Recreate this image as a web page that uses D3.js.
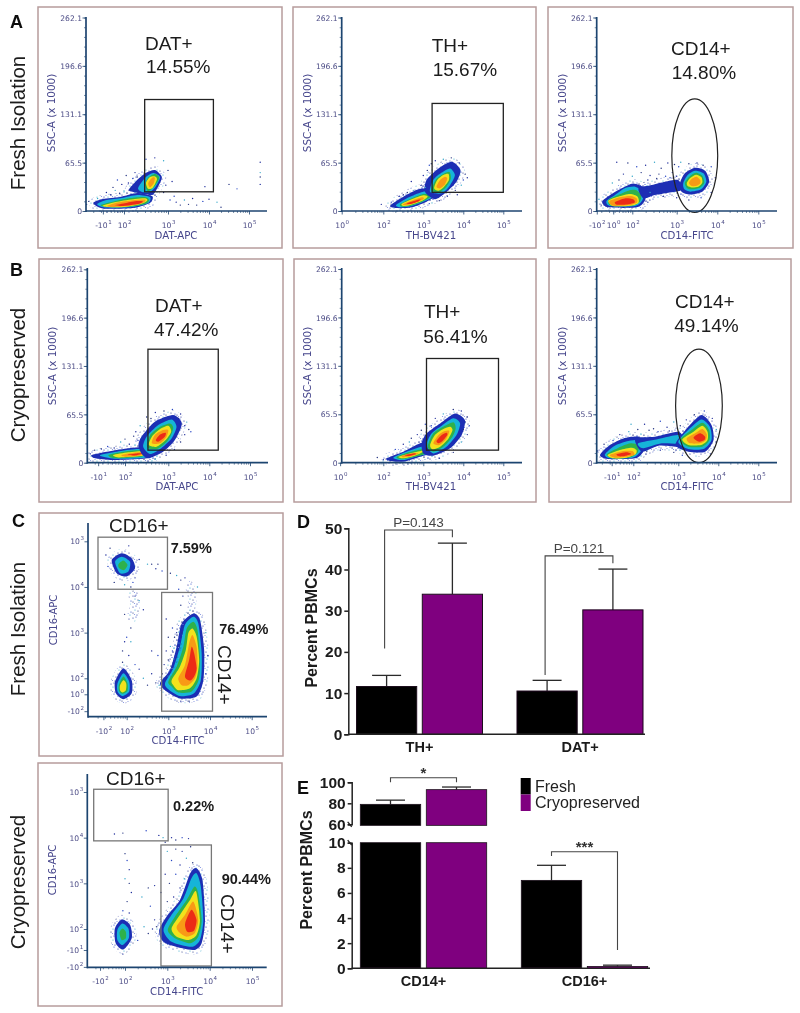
<!DOCTYPE html>
<html>
<head>
<meta charset="utf-8">
<script src="https://cdn.jsdelivr.net/npm/d3@7"></script>
<style>
  html, body { margin: 0; padding: 0; background: #fff; }
  svg { display: block; }
</style>
</head>
<body>
<div id="field"></div>
<script>
// density levels: 0 sparse, 1 blue, 2 cyan, 3 green, 4 yellow, 5 orange, 6 red
const levelColors = ["url(#speck)", "#1c2fb4", "#18b4d8", "#2fb14c", "#f2e21e", "#f89a18", "#ec2a18"];
const speckColors = ["#1c2a9a", "#20307f", "#2746c4", "#1c2a9a", "#33a6c9", "#20307f"];

// x = decade of the fluorescence axis, y = SSC-A x 1000
const datFreshRings = [
  [1, [[1.3,10.8],[1.52,16.2],[1.91,19],[2.3,24.4],[2.64,20],[2.59,10.8],[2.2,4],[1.52,3.4]]],
  [2, [[1.39,9.5],[1.61,15],[1.95,17.6],[2.3,21.7],[2.59,19],[2.55,10.8],[2.18,5.4],[1.57,4.7]]],
  [3, [[1.47,8],[1.8,13.5],[2.14,17.6],[2.48,19],[2.57,15],[2.48,9.5],[2.09,5.4],[1.6,5.4]]],
  [4, [[1.52,7.5],[1.85,12.5],[2.25,16.2],[2.5,17],[2.52,13.5],[2.36,9],[2.02,5.4],[1.64,5.4]]],
  [5, [[1.62,7],[1.85,11.5],[2.2,14.5],[2.48,15.5],[2.43,10.8],[2.09,6.8],[1.7,5.5]]],
  [6, [[1.8,8],[2.05,11],[2.3,13.5],[2.43,13],[2.32,9.5],[1.95,6.8]]],
  [1, [[2.11,28],[2.25,39],[2.48,51],[2.7,55.5],[2.86,46],[2.77,32.5],[2.64,21.7],[2.32,24.4]]],
  [2, [[2.32,31],[2.48,45],[2.66,51.5],[2.82,46],[2.73,34],[2.59,25.7],[2.41,25.7]]],
  [3, [[2.48,35],[2.55,45],[2.7,50],[2.8,45],[2.7,34],[2.55,27]]],
  [4, [[2.5,38],[2.59,46],[2.7,47],[2.75,43],[2.66,32],[2.55,30]]],
  [5, [[2.55,38],[2.64,45],[2.7,45],[2.68,38],[2.59,32]]]
];
const datFreshSpecks = [[1.6,25],[1.75,32],[1.85,42],[1.95,36],[2,27],[2.05,48],[2.1,38],[2.15,30],[2.2,44],[1.7,22],[1.8,28],[1.9,24],[2.25,52],[2.3,46],[2.5,70],[2.7,72],[2.9,68],[3,55],[3.1,40],[2.9,25],[3.05,15],[3.2,12],[3.4,15],[3.5,9],[3.6,17],[3.7,8],[3.85,13],[4,16],[4.2,12],[4.3,5],[3.9,33],[4.5,36],[4.7,30],[5.28,66],[5.28,52],[5.28,46],[5.28,36],[3.3,8],[3.15,20],[2.95,35],[1.4,17],[1.2,13],[1.15,9]];
const datFreshGate = [2.47, 4.11, 26, 151];

const thFreshRings = [
  [1, [[2.17,7.2],[2.5,19.4],[2.88,29.3],[3.21,30.7],[3.33,21.6],[3.08,12.6],[2.71,5],[2.33,4]]],
  [2, [[2.32,8.1],[2.58,17],[2.92,24.8],[3.21,27.5],[3.29,20.3],[3.04,13.5],[2.71,6.8],[2.42,5]]],
  [3, [[2.42,9],[2.67,16.2],[2.96,22.5],[3.17,23],[3.17,18.5],[2.96,12.2],[2.67,6.8],[2.46,5.9]]],
  [4, [[2.46,9.5],[2.71,15.8],[3,21.2],[3.11,19.4],[2.96,13.5],[2.67,8.1],[2.5,6.8]]],
  [5, [[2.5,9.5],[2.75,14.9],[2.98,18.5],[3,15.8],[2.71,9.5],[2.54,7.7]]],
  [6, [[2.58,10.4],[2.79,14],[2.93,15.8],[2.88,13],[2.67,9.5]]],
  [1, [[3.04,26],[3.08,42],[3.38,57.7],[3.71,66.7],[3.93,55.5],[3.83,39.7],[3.54,23.9],[3.29,15.8]]],
  [2, [[3.17,26],[3.25,42],[3.46,52],[3.67,57.7],[3.79,48.7],[3.67,35],[3.46,23.9]]],
  [3, [[3.21,28.4],[3.31,42],[3.5,50],[3.65,53],[3.69,44],[3.58,33],[3.38,24.8]]],
  [4, [[3.27,30.7],[3.35,42],[3.5,48.7],[3.63,50],[3.64,42],[3.52,33],[3.38,27.5]]],
  [5, [[3.33,33],[3.42,42],[3.54,46.5],[3.6,44],[3.54,36],[3.42,30.7]]]
];
const thFreshSpecks = [[3,48],[3.1,55],[3.15,62],[3.3,68],[3.5,70],[3.7,72],[3.9,65],[4.05,50],[4,42],[4.1,45],[3.95,35],[3.8,28],[3.6,20],[3.4,14],[3.15,10],[2.7,40],[2.75,28],[2.6,25],[2.4,20],[2.5,22],[2.2,12],[1.95,9],[3.05,32],[2.95,35],[3.85,22],[3.2,64]];
const thFreshGate = [3.22, 5, 25.3, 145.7];

const cd14FreshRings = [
  [1, [[1.32,12.6],[1.5,21.6],[1.76,30.7],[2.02,37.4],[2.29,30.7],[2.29,14.9],[2.1,5],[1.46,5]]],
  [2, [[1.42,13.5],[1.61,21.6],[1.83,30.7],[2.06,32.9],[2.23,26.2],[2.23,14.9],[2.06,6.8],[1.5,6.8]]],
  [3, [[1.46,14.9],[1.68,21.6],[1.91,27.5],[2.08,28.4],[2.2,21.6],[2.17,12.6],[2,7.2],[1.53,6.8]]],
  [4, [[1.46,14],[1.68,19.4],[1.95,23],[2.12,19.4],[2.14,11.3],[1.97,7.2],[1.57,6.8]]],
  [5, [[1.48,13],[1.72,18.5],[1.97,20.3],[2.1,17.1],[2.1,11.3],[1.91,7.7],[1.57,7.2]]],
  [6, [[1.61,12.2],[1.83,17.1],[2.02,15.8],[2.05,11.3],[1.83,8.6],[1.65,8.6]]],
  [1, [[2.14,30.7],[2.44,35.2],[2.74,39.7],[3.04,41.9],[3.12,28.4],[2.81,24.8],[2.51,21.6],[2.25,17.1]]],
  [1, [[3.08,37.4],[3.2,51],[3.45,58.6],[3.7,54.6],[3.8,39.7],[3.63,26.2],[3.33,22.5],[3.12,26.2]]],
  [2, [[3.16,37.4],[3.27,48.7],[3.45,54.6],[3.66,51],[3.73,39.7],[3.6,29.3],[3.34,26.2],[3.19,29.3]]],
  [3, [[3.2,38.3],[3.31,46.5],[3.47,51.9],[3.63,47.8],[3.68,38.3],[3.57,31.6],[3.35,29.3],[3.24,32]]],
  [4, [[3.25,38.3],[3.34,45],[3.48,49.2],[3.61,45.6],[3.63,38.3],[3.53,32.9],[3.37,32],[3.27,33.8]]],
  [5, [[3.3,38.3],[3.39,44.2],[3.49,46.5],[3.58,41.9],[3.58,37.4],[3.49,34.3],[3.37,33.8]]]
];
const cd14FreshSpecks = [[1.65,66],[1.9,65],[2.1,60],[2.3,62],[2.5,66],[2.65,58],[2.8,65],[2.95,63],[3.05,60],[1.8,50],[2,47],[2.2,52],[2.4,48],[2.6,50],[2.75,47],[2.9,52],[3.1,66],[3.3,64],[3.5,65],[3.65,62],[3.85,60],[3.95,45],[1.55,38],[1.7,42],[2.35,42],[2.55,44],[2.85,45],[3,47],[2.4,25],[2.7,20],[3,18],[3.3,15],[3.6,18],[3.85,25],[1.25,16],[1.3,8],[2.35,12]];
const cd14FreshGate = [2.89, 4.01, -2, 152];

const datCryoRings = [
  [1, [[1.23,10.4],[1.58,14.9],[2.04,19.4],[2.5,21.6],[2.69,14.9],[2.5,5.9],[1.73,3.6],[1.31,5.9]]],
  [2, [[1.42,9.9],[1.81,14.9],[2.27,18.5],[2.58,17.1],[2.62,12.6],[2.42,6.3],[1.77,5.4]]],
  [3, [[1.62,10.4],[1.96,14.9],[2.42,17.1],[2.58,14],[2.38,8.1],[1.77,5.9]]],
  [4, [[1.73,10.4],[2.08,14],[2.46,15.8],[2.54,12.6],[2.35,9],[1.85,7.2]]],
  [5, [[1.92,10.4],[2.19,13.5],[2.46,14.4],[2.46,11.3],[2.27,9],[2,8.1]]],
  [6, [[2.04,10.8],[2.27,12.6],[2.41,12.6],[2.23,9.9]]],
  [1, [[2.31,23.9],[2.38,35.2],[2.69,55.5],[3.12,64.5],[3.33,53.2],[3.16,30.7],[2.88,14.9],[2.54,5.9],[2.38,12.6]]],
  [2, [[2.42,21.6],[2.5,35.2],[2.77,51],[3.08,58.6],[3.2,48.7],[3.08,32.9],[2.81,18.5],[2.58,11.7]]],
  [3, [[2.52,20.7],[2.58,37.4],[2.81,48.7],[3.04,53.2],[3.12,46.5],[3,30.7],[2.77,19.4]]],
  [4, [[2.55,23.9],[2.62,35.2],[2.81,45.6],[3,50],[3.07,41.9],[2.94,30.7],[2.73,21.6]]],
  [5, [[2.62,26.2],[2.69,37.4],[2.88,44.2],[3,44.2],[2.96,35.2],[2.81,26.2]]],
  [6, [[2.71,30.7],[2.81,38.3],[2.94,40.6],[2.92,35.2],[2.77,28.4]]]
];
const datCryoSpecks = [[1.2,12],[1.3,17],[1.6,22],[1.75,20],[1.9,28],[2,32],[2.1,25],[2.2,36],[2.3,30],[2.25,42],[2.35,50],[2.5,62],[2.7,68],[2.9,70],[3.1,72],[3.3,66],[3.45,55],[3.5,45],[3.4,38],[3.3,28],[3.15,18],[2.95,10],[2.7,5],[1.45,19],[3.4,50],[2.6,60],[3.55,42],[3.25,60]];
const datCryoGate = [2.53, 4.22, 17, 153.8];

const thCryoRings = [
  [1, [[2.08,5.9],[2.5,14.9],[2.92,26.2],[3.21,28.4],[3.25,14.9],[2.92,8.1],[2.5,1.4],[2.17,2.3]]],
  [2, [[2.25,6.8],[2.58,14.9],[2.96,21.6],[3.17,21.6],[3.17,12.6],[2.88,9.5],[2.5,3.6]]],
  [3, [[2.33,7.7],[2.63,14],[2.92,18],[3.13,19.4],[3.07,12.6],[2.79,8.1],[2.46,4.5]]],
  [4, [[2.38,8.1],[2.67,12.6],[2.96,16.2],[3,14.9],[2.79,9.5],[2.5,5.9]]],
  [5, [[2.46,9.5],[2.71,12.6],[2.88,12.6],[2.71,9],[2.5,7.2]]],
  [6, [[2.54,10.4],[2.75,12.6],[2.82,11.7],[2.63,9]]],
  [1, [[2.96,26.2],[3.08,39.7],[3.42,53.2],[3.79,66.7],[4.04,57.7],[3.96,37.4],[3.67,19.4],[3.25,9.5],[3,12.6]]],
  [2, [[3.08,23.9],[3.21,39.7],[3.46,50],[3.75,60],[3.92,53.2],[3.83,37.4],[3.58,21.6],[3.25,12.6]]],
  [3, [[3.11,21.6],[3.25,39.7],[3.5,48.7],[3.75,54.6],[3.81,46.5],[3.73,35.2],[3.5,21.6],[3.25,14.9]]],
  [4, [[3.17,23.9],[3.29,37.4],[3.5,45.6],[3.67,48.7],[3.73,44.2],[3.63,32.9],[3.42,21.6],[3.23,18]]],
  [5, [[3.25,26.2],[3.38,37.4],[3.54,42.8],[3.65,42.8],[3.58,32.9],[3.4,23.9]]],
  [6, [[3.33,29.3],[3.46,37.4],[3.58,40.6],[3.6,37.4],[3.48,29.3],[3.38,26.2]]]
];
const thCryoSpecks = [[2,4],[1.85,7],[2.3,18],[2.5,25],[2.65,28],[2.7,33],[2.85,38],[2.95,44],[3.05,52],[3.3,60],[3.5,66],[3.75,72],[3.95,70],[4.1,62],[4.15,50],[4.1,38],[3.95,28],[3.75,14],[3.4,6],[4,45],[3.2,50],[4.05,55]];
const thCryoGate = [3.08, 4.88, 17, 141];

const cd14CryoRings = [
  [1, [[1.26,10.4],[1.48,23.9],[1.78,32.9],[2.11,35.2],[2.26,26.2],[2.22,14.9],[2.04,5.9],[1.44,5]]],
  [2, [[1.37,11.3],[1.59,23],[1.89,29.3],[2.15,30.7],[2.22,23],[2.15,14],[1.98,6.8],[1.48,5.9]]],
  [3, [[1.41,11.3],[1.67,20.3],[1.93,26.2],[2.11,23.9],[2.1,14],[1.93,7.2],[1.52,5.9]]],
  [4, [[1.43,10.4],[1.7,17.1],[1.96,20.3],[2.07,17.1],[2.05,11.3],[1.85,6.8],[1.56,5.9]]],
  [5, [[1.48,10.4],[1.78,15.8],[1.98,15.8],[2.02,10.4],[1.81,7.7],[1.59,6.8]]],
  [6, [[1.63,11.3],[1.85,14],[1.95,11.7],[1.81,9],[1.68,8.6]]],
  [1, [[2.04,32.9],[2.48,35.2],[3,41.9],[3.17,28.4],[3,21.6],[2.56,23],[2.19,14.9]]],
  [2, [[2.11,26.2],[2.56,32],[3,37.4],[3.08,26.2],[2.63,26.2],[2.22,19.4]]],
  [1, [[2.96,28.4],[3.25,48.7],[3.58,64.5],[3.83,51],[3.88,30.7],[3.67,14.9],[3.25,14.9],[2.96,21.6]]],
  [2, [[3,28.4],[3.29,46.5],[3.58,58.6],[3.79,48.7],[3.83,30.7],[3.63,18.5],[3.25,18.5]]],
  [3, [[3.04,30.7],[3.33,44.2],[3.6,54.1],[3.77,44.2],[3.78,30.7],[3.6,21.6],[3.25,21.6]]],
  [4, [[3.1,31.6],[3.38,41.9],[3.6,50],[3.73,41.9],[3.73,30.7],[3.57,23.9],[3.25,23.9]]],
  [5, [[3.21,32.9],[3.42,39.7],[3.6,45.6],[3.71,38.8],[3.69,30.7],[3.54,26.2],[3.29,26.2]]],
  [6, [[3.38,33.8],[3.54,39.7],[3.67,35.2],[3.65,30.7],[3.52,28.4]]]
];
const cd14CryoSpecks = [[1.2,16],[1.35,25],[1.55,30],[1.7,38],[1.9,42],[2.1,45],[2.25,52],[2.45,46],[2.6,56],[2.75,48],[2.9,55],[3.05,50],[3.2,58],[3.4,65],[3.65,70],[3.85,60],[3.95,45],[3.95,28],[3.8,12],[2.35,44],[2.55,42],[2.8,43],[1.95,52],[2.3,15],[2.6,17],[2.9,14],[3.1,10]];
const cd14CryoGate = [2.94, 4.1, 0, 153.8];

// panel C: x and y are both decades
const monoFreshRings = [
  [0, [[3.4,4.04],[3.56,4.12],[3.68,3.86],[3.64,3.5],[3.44,3.35],[3.48,3.72]]],
  [0, [[2.04,3.86],[2.24,3.93],[2.32,3.57],[2.2,3.24],[2,3.31],[2.08,3.61]]],
  [0, [[2.95,2.0],[3.1,2.6],[3.25,3.2],[3.4,3.4],[3.3,2.6],[3.1,2.1]]],
  [1, [[1.64,4.59],[1.88,4.74],[2.12,4.63],[2.2,4.41],[2,4.23],[1.76,4.3]]],
  [2, [[1.72,4.55],[1.88,4.66],[2.08,4.55],[2.04,4.34],[1.84,4.3]]],
  [3, [[1.8,4.5],[1.92,4.58],[2.02,4.48],[1.94,4.37],[1.82,4.41]]],
  [1, [[1.72,1.93],[1.92,2.22],[2.12,1.96],[2.12,1.67],[1.92,1.54],[1.74,1.67]]],
  [2, [[1.78,1.89],[1.92,2.11],[2.06,1.93],[2.06,1.71],[1.9,1.61],[1.78,1.71]]],
  [3, [[1.81,1.85],[1.92,2.04],[2.02,1.89],[2.02,1.73],[1.9,1.66],[1.82,1.71]]],
  [4, [[1.84,1.85],[1.92,1.96],[1.99,1.88],[1.98,1.74],[1.9,1.69],[1.84,1.74]]],
  [1, [[2.8,1.89],[3.04,2.18],[3.2,2.69],[3.32,3.2],[3.6,3.42],[3.76,3.28],[3.86,2.62],[3.84,1.96],[3.68,1.6],[3.28,1.56],[2.96,1.71]]],
  [2, [[2.92,1.89],[3.12,2.22],[3.28,2.69],[3.4,3.17],[3.6,3.35],[3.72,3.2],[3.8,2.55],[3.78,1.96],[3.6,1.66],[3.28,1.61],[3,1.76]]],
  [3, [[3,1.93],[3.2,2.26],[3.36,2.69],[3.44,3.09],[3.6,3.24],[3.7,3.06],[3.76,2.47],[3.74,2],[3.56,1.71],[3.24,1.69],[3.08,1.82]]],
  [4, [[3.08,1.96],[3.28,2.26],[3.42,2.62],[3.48,2.99],[3.58,3.09],[3.68,2.91],[3.74,2.4],[3.68,2],[3.52,1.78],[3.24,1.74],[3.12,1.85]]],
  [5, [[3.24,2],[3.4,2.29],[3.5,2.77],[3.58,2.95],[3.68,2.69],[3.7,2.26],[3.64,2],[3.48,1.85],[3.32,1.85]]],
  [6, [[3.4,2.04],[3.5,2.4],[3.56,2.69],[3.62,2.55],[3.68,2.22],[3.62,2.04],[3.52,1.95]]]
];
const monoFreshSpecks = [[1.5,4.7],[1.6,4.85],[1.55,4.45],[2.3,4.6],[2.5,4.5],[2.6,4.5],[2.7,4.4],[2.75,4.5],[2.85,4.35],[2.05,4.9],[1.95,4.05],[1.7,4.1],[2.2,4.2],[2.1,4],[2.15,4.1],[2.2,3.8],[2.3,3.7],[1.95,3.4],[2.4,3.5],[2.1,3.1],[2,2.9],[1.95,2.8],[2.1,2.8],[1.9,2.6],[2.05,2.5],[1.9,2.35],[2.2,2.3],[2.3,2.2],[2.4,2],[2.5,1.85],[2.6,2.1],[2.7,1.9],[2.75,2.5],[2.6,2.6],[3.2,4.25],[3.3,4.15],[3.4,4.2],[3.05,4.3],[3.25,3.95],[3.35,3.8],[3.7,4],[3.3,3.6],[2.95,3.3],[3,2.9],[3.1,3.1],[2.95,2.6],[3.05,2.7],[3.15,2.9],[2.9,2.3],[3,2.4],[3.1,2.6],[3.2,3],[2.78,1.85],[2.85,2.1],[3.3,1.5],[3.5,1.5],[3.9,2.1],[3.95,2.5],[3.9,3]];
const monoFreshGates = [[1.31, 2.98, 3.95, 5.09], [2.84, 4.06, 1.28, 3.88]];

const monoCryoRings = [
  [1, [[1.76,2.01],[1.92,2.21],[2.12,2.09],[2.16,1.8],[1.96,1.55],[1.78,1.69]]],
  [2, [[1.82,1.98],[1.94,2.12],[2.08,2.01],[2.09,1.8],[1.94,1.65],[1.82,1.76]]],
  [3, [[1.87,1.92],[1.94,2.01],[2.02,1.94],[2.02,1.8],[1.92,1.76]]],
  [1, [[2.81,1.98],[2.98,2.27],[3.3,2.64],[3.54,3.22],[3.69,3.33],[3.83,3.07],[3.89,2.2],[3.81,1.69],[3.61,1.54],[3.06,1.65],[2.87,1.76]]],
  [2, [[2.91,1.98],[3.1,2.31],[3.38,2.67],[3.57,3.11],[3.69,3.22],[3.79,2.93],[3.85,2.2],[3.77,1.76],[3.57,1.61],[3.1,1.72]]],
  [3, [[3.01,1.98],[3.18,2.27],[3.46,2.64],[3.64,2.93],[3.73,2.78],[3.81,2.2],[3.73,1.83],[3.54,1.69],[3.18,1.8]]],
  [4, [[3.1,2.01],[3.3,2.31],[3.54,2.64],[3.68,2.82],[3.77,2.2],[3.69,1.87],[3.5,1.76],[3.22,1.83]]],
  [5, [[3.22,2.05],[3.42,2.31],[3.61,2.6],[3.73,2.2],[3.65,1.91],[3.46,1.83],[3.3,1.91]]],
  [6, [[3.42,2.12],[3.57,2.42],[3.69,2.2],[3.63,1.96],[3.47,1.94]]]
];
const monoCryoSpecks = [[1.75,4.08],[1.95,4.1],[2.5,4.15],[2.8,4.05],[2.9,4],[2.95,3.9],[3.1,4],[3.2,3.95],[3.35,4],[3.5,3.98],[3,3.7],[3.2,3.75],[3.35,3.7],[3.55,3.8],[3.1,3.5],[3.3,3.4],[3.45,3.55],[3.6,3.45],[2.95,3.2],[3.05,3],[3.2,3.2],[3.3,2.9],[3.4,3.1],[3,2.6],[3.15,2.7],[2,3.65],[2.05,3.5],[2.1,3.3],[2,3.1],[2.1,3],[2.15,2.8],[2.05,2.6],[1.95,2.4],[2.1,2.35],[2.4,2.7],[2.55,2.9],[2.7,2.95],[2.85,2.8],[2.6,2.5],[2.7,2.2],[2.45,2.05],[2.55,1.9],[2.65,2],[2.75,2.05],[2.3,1.75],[1.95,1.45]];
const monoCryoGates = [[1.26, 3.02, 3.93, 5.06], [2.85, 4.04, 1.19, 3.84]];

// tick labels: [position, base, exponent]
const sscTicks = [[0, "0"], [65.5, "65.5"], [131.1, "131.1"], [196.6, "196.6"], [262.1, "262.1"]];
const decades = [[2, "10", "2"], [3, "10", "3"], [4, "10", "4"], [5, "10", "5"]];

// bar charts
const groupsD = ["TH+", "DAT+"];
const groupsE = ["CD14+", "CD16+"];
const conditions = ["Fresh", "Cryopreserved"];
const freshD = [11.6, 10.5];
const freshDTop = [14.3, 13.1];
const cryoD = [34, 30.2];
const cryoDTop = [46.4, 40.1];
const freshE = [79, 7];
const freshETop = [83, 8.2];
const cryoE = [93, 0.15];
const cryoETop = [95.5, 0.25];
const ticksD = [0, 10, 20, 30, 40, 50];
const ticksEUpper = [60, 80, 100];
const ticksELower = [0, 2, 4, 6, 8, 10];
// P brackets: [top, left end, right end]
const bracketsD = [[49.6, 20.8, 47.8, "P=0.143"], [43.3, 14.4, 41.5, "P=0.121"]];

const sans = "'Liberation Sans', Arial, sans-serif";
const panelFont = "'DejaVu Sans', sans-serif";
const barColor = { Fresh: "#000", Cryopreserved: "#7f007f" };

var svg = d3.select("#field").append("svg").attr("width", 800).attr("height", 1013);
const defs = svg.append("defs");
defs.append("filter").attr("id", "soft").append("feGaussianBlur").attr("stdDeviation", 0.75);
defs.append("filter").attr("id", "softer").append("feGaussianBlur").attr("stdDeviation", 0.33);

// speckle tile for the low density edge of each population
const tile = defs.append("pattern").attr("id", "speck").attr("patternUnits", "userSpaceOnUse")
  .attr("width", 11).attr("height", 11);
[[1,2,"#1c2a9a"],[4,1,"#2746c4"],[8,3,"#1c2a9a"],[3,5,"#33a6c9"],[6,6,"#20307f"],[10,7,"#2746c4"],[1,8,"#20307f"],[5,10,"#1c2a9a"],[9,10,"#33a6c9"],[7,8.5,"#7f8fe0"],[2.5,9.5,"#7f8fe0"]]
  .forEach(d => tile.append("circle").attr("cx", d[0]).attr("cy", d[1]).attr("r", 0.6).attr("fill", d[2]));

const root = svg.append("g").attr("filter", "url(#softer)");

function addLabel(sel, tick) {
  sel.text(null);
  sel.append("tspan").text(tick[1]);
  if (tick[2]) {
    sel.append("tspan").attr("font-size", 5.5).attr("dy", -4).attr("dx", 0.6).text(tick[2]);
  }
}

function flowPanel(p) {
  const g = root.append("g");
  g.append("rect")
    .attr("x", p.frame[0]).attr("y", p.frame[1])
    .attr("width", p.frame[2] - p.frame[0]).attr("height", p.frame[3] - p.frame[1])
    .attr("fill", "#fff").attr("stroke", "#b79c9c").attr("stroke-width", 1.5);

  const x = d3.scaleLinear().domain([2, 3, 4, 5]).range(p.xRange);
  const y = d3.scaleLinear().domain(p.yDomain).range(p.yRange);

  const line = d3.line()
    .x(d => x(d[0])).y(d => y(d[1]))
    .curve(d3.curveCardinalClosed.tension(0.25));

  // speckled halo round the outer rings
  g.append("g").selectAll("path").data(p.rings.filter(d => d[0] == 1)).join("path")
    .attr("d", d => line(d[1]))
    .attr("fill", "none").attr("stroke", "url(#speck)").attr("stroke-width", 9);

  const cloud = g.append("g").attr("filter", "url(#soft)");
  cloud.selectAll("path").data(p.rings.filter(d => d[0] > 0)).join("path")
    .attr("d", d => line(d[1]))
    .attr("fill", d => levelColors[d[0]]);

  g.append("g").selectAll("path").data(p.rings.filter(d => d[0] == 0)).join("path")
    .attr("d", d => line(d[1]))
    .attr("fill", d => levelColors[d[0]]);

  g.append("g").selectAll("circle").data(p.specks).join("circle")
    .attr("cx", d => x(d[0])).attr("cy", d => y(d[1])).attr("r", 0.7)
    .attr("fill", (d, i) => speckColors[i % speckColors.length]);

  // gates
  (p.gates || []).forEach(b => {
    g.append("rect")
      .attr("x", x(b[0])).attr("y", y(b[3]))
      .attr("width", x(b[1]) - x(b[0])).attr("height", y(b[2]) - y(b[3]))
      .attr("fill", "none").attr("stroke", p.gateColor).attr("stroke-width", 1.3);
  });
  if (p.ellipse) {
    const e = p.ellipse;
    g.append("ellipse")
      .attr("cx", (x(e[0]) + x(e[1])) / 2).attr("cy", (y(e[2]) + y(e[3])) / 2)
      .attr("rx", (x(e[1]) - x(e[0])) / 2).attr("ry", (y(e[2]) - y(e[3])) / 2)
      .attr("fill", "none").attr("stroke", "#222").attr("stroke-width", 1.2);
  }

  // axes
  const xMinor = d3.range(1, 5).flatMap(d => [2, 3, 4, 5, 6, 7, 8, 9].map(k => d + Math.log10(k)))
    .filter(v => x(v) > p.axisX);
  const axisColor = "#1e4470";
  const xg = g.append("g").attr("transform", `translate(0,${p.axisY})`)
    .call(d3.axisBottom(x).tickValues(xMinor).tickSize(2).tickFormat(""));
  xg.select(".domain").remove();
  xg.selectAll("line").attr("stroke", axisColor).attr("stroke-width", 0.6);

  const xMajor = g.append("g").attr("transform", `translate(0,${p.axisY})`)
    .call(d3.axisBottom(x).tickValues(p.xTicks.map(t => t[0])).tickSize(3.5));
  xMajor.select(".domain").remove();
  xMajor.selectAll("line").attr("stroke", axisColor).attr("stroke-width", 0.8);
  xMajor.selectAll("text")
    .data(p.xTicks)
    .attr("y", 17).attr("dy", 0)
    .attr("font-family", panelFont).attr("font-size", 7.6).attr("fill", "#4c4c86")
    .each(function (t) { addLabel(d3.select(this), t); });

  const yMajor = g.append("g").attr("transform", `translate(${p.axisX},0)`)
    .call(d3.axisLeft(y).tickValues(p.yTicks.map(t => t[0])).tickSize(3.5));
  yMajor.select(".domain").remove();
  yMajor.selectAll("line").attr("stroke", axisColor).attr("stroke-width", 0.8);
  yMajor.selectAll("text")
    .data(p.yTicks)
    .attr("x", -4).attr("dy", "0.35em")
    .attr("font-family", panelFont).attr("font-size", 7.6).attr("fill", "#4c4c86")
    .each(function (t) { addLabel(d3.select(this), t); });

  if (p.yMinor) {
    const ym = g.append("g").attr("transform", `translate(${p.axisX},0)`)
      .call(d3.axisLeft(y).tickValues(p.yMinor).tickSize(2).tickFormat(""));
    ym.select(".domain").remove();
    ym.selectAll("line").attr("stroke", axisColor).attr("stroke-width", 0.6);
  }

  g.append("line").attr("x1", p.axisX).attr("x2", p.axisX)
    .attr("y1", p.axisTop).attr("y2", p.axisY + 1)
    .attr("stroke", axisColor).attr("stroke-width", 1.7);
  g.append("line").attr("x1", p.axisX).attr("x2", p.axisEnd)
    .attr("y1", p.axisY).attr("y2", p.axisY)
    .attr("stroke", axisColor).attr("stroke-width", 1.7);

  g.append("text").text(p.yLabel)
    .attr("transform", `translate(${p.axisX - 31},${p.yLabelMid}) rotate(-90)`)
    .attr("text-anchor", "middle").attr("font-family", panelFont)
    .attr("font-size", p.yLabelSize).attr("fill", "#46468c");
  g.append("text").text(p.xLabel)
    .attr("x", p.xLabelMid).attr("y", p.axisY + 27.5)
    .attr("text-anchor", "middle").attr("font-family", panelFont)
    .attr("font-size", 10.2).attr("fill", "#46468c");

  (p.notes || []).forEach(n => {
    const t = g.append("text").text(n.text)
      .attr("font-family", sans).attr("font-size", n.size || 19)
      .attr("font-weight", n.bold ? "bold" : "normal").attr("fill", "#1a1a1a");
    if (n.down) t.attr("transform", `translate(${n.x},${n.y}) rotate(90)`);
    else t.attr("x", n.x).attr("y", n.y);
  });
}

const sscMinor = d3.range(0, 263, 13.1);
const topY = { yDomain: [0, 262.1], yTicks: sscTicks, yMinor: sscMinor, yLabel: "SSC-A (x 1000)", yLabelSize: 10.4 };

flowPanel({ ...topY, frame: [38, 7, 282, 248], xRange: [124, 168, 209, 249], yRange: [211, 17.5], axisX: 86, axisY: 211, axisEnd: 267, axisTop: 17,
  rings: datFreshRings, specks: datFreshSpecks, gates: [datFreshGate], gateColor: "#222",
  xTicks: [[1.52, "-10", "1"], ...decades], xLabel: "DAT-APC", xLabelMid: 176, yLabelMid: 113,
  notes: [{ text: "DAT+", x: 145, y: 50 }, { text: "14.55%", x: 146, y: 73 }] });
flowPanel({ ...topY, frame: [293, 7, 536, 248], xRange: [383.3, 423.3, 463.3, 503.3], yRange: [211, 17.5], axisX: 341.7, axisY: 211, axisEnd: 522, axisTop: 17,
  rings: thFreshRings, specks: thFreshSpecks, gates: [thFreshGate], gateColor: "#222",
  xTicks: [[0.96, "10", "0"], ...decades], xLabel: "TH-BV421", xLabelMid: 431, yLabelMid: 113,
  notes: [{ text: "TH+", x: 431.7, y: 52 }, { text: "15.67%", x: 432.7, y: 76 }] });
flowPanel({ ...topY, frame: [548, 7, 793, 248], xRange: [632.3, 676.7, 717.3, 758.3], yRange: [211, 17.5], axisX: 596.7, axisY: 211, axisEnd: 777, axisTop: 17,
  rings: cd14FreshRings, specks: cd14FreshSpecks, ellipse: cd14FreshGate,
  xTicks: [[1.2, "-10", "2"], [1.57, "10", "0"], ...decades], xLabel: "CD14-FITC", xLabelMid: 687, yLabelMid: 113,
  notes: [{ text: "CD14+", x: 671, y: 55 }, { text: "14.80%", x: 671.7, y: 79 }] });

flowPanel({ ...topY, frame: [39, 259, 283, 502], xRange: [125, 168.3, 209.3, 250], yRange: [462.7, 269.3], axisX: 87.3, axisY: 462.7, axisEnd: 268, axisTop: 268,
  rings: datCryoRings, specks: datCryoSpecks, gates: [datCryoGate], gateColor: "#222",
  xTicks: [[1.38, "-10", "1"], ...decades], xLabel: "DAT-APC", xLabelMid: 177, yLabelMid: 366,
  notes: [{ text: "DAT+", x: 155, y: 312 }, { text: "47.42%", x: 154, y: 336 }] });
flowPanel({ ...topY, frame: [294, 259, 536, 502], xRange: [383.3, 423.3, 463.3, 503.3], yRange: [462.7, 269], axisX: 341.7, axisY: 462.7, axisEnd: 522, axisTop: 268,
  rings: thCryoRings, specks: thCryoSpecks, gates: [thCryoGate], gateColor: "#222",
  xTicks: [[0.92, "10", "0"], ...decades], xLabel: "TH-BV421", xLabelMid: 431, yLabelMid: 366,
  notes: [{ text: "TH+", x: 424, y: 318 }, { text: "56.41%", x: 423.3, y: 342.7 }] });
flowPanel({ ...topY, frame: [549, 259, 791, 502], xRange: [633.3, 678.3, 718.3, 758.3], yRange: [462.7, 269], axisX: 596.7, axisY: 462.7, axisEnd: 777, axisTop: 268,
  rings: cd14CryoRings, specks: cd14CryoSpecks, ellipse: cd14CryoGate,
  xTicks: [[1.52, "-10", "1"], ...decades], xLabel: "CD14-FITC", xLabelMid: 687, yLabelMid: 366,
  notes: [{ text: "CD14+", x: 675, y: 308.3 }, { text: "49.14%", x: 674.3, y: 332.3 }] });

flowPanel({ frame: [39, 513, 283, 756], xRange: [126.7, 168.3, 210, 251.7], yDomain: [2, 5], yRange: [678.3, 541.3], axisX: 88, axisY: 716.7, axisEnd: 267, axisTop: 523,
  rings: monoFreshRings, specks: monoFreshSpecks, gates: monoFreshGates, gateColor: "#777",
  xTicks: [[1.44, "-10", "2"], ...decades],
  yTicks: [[5, "10", "3"], [4, "10", "4"], [3, "10", "3"], [2, "10", "2"], [1.65, "10", "0"], [1.28, "-10", "2"]],
  xLabel: "CD14-FITC", xLabelMid: 178, yLabel: "CD16-APC", yLabelMid: 620, yLabelSize: 10,
  notes: [{ text: "CD16+", x: 109, y: 531.7 }, { text: "7.59%", x: 170.7, y: 553, size: 14.5, bold: true },
    { text: "76.49%", x: 219.3, y: 634, size: 14.5, bold: true }, { text: "CD14+", x: 218, y: 645, down: true }] });
flowPanel({ frame: [38, 763, 282, 1006], xRange: [125, 167.3, 209.7, 252], yDomain: [2, 5], yRange: [929, 792], axisX: 87.3, axisY: 967.3, axisEnd: 266.7, axisTop: 774,
  rings: monoCryoRings, specks: monoCryoSpecks, gates: monoCryoGates, gateColor: "#777",
  xTicks: [[1.41, "-10", "2"], ...decades],
  yTicks: [[5, "10", "3"], [4, "10", "4"], [3, "10", "3"], [2, "10", "2"], [1.54, "-10", "1"], [1.17, "-10", "2"]],
  xLabel: "CD14-FITC", xLabelMid: 176.7, yLabel: "CD16-APC", yLabelMid: 870, yLabelSize: 10,
  notes: [{ text: "CD16+", x: 106, y: 785 }, { text: "0.22%", x: 173, y: 810.7, size: 14.5, bold: true },
    { text: "90.44%", x: 221.7, y: 884, size: 14.5, bold: true }, { text: "CD14+", x: 220.7, y: 894, down: true }] });

// row and panel letters
[["A", 10, 28], ["B", 10, 276], ["C", 12, 527], ["D", 297, 528], ["E", 297, 794]].forEach(d => {
  root.append("text").text(d[0]).attr("x", d[1]).attr("y", d[2])
    .attr("font-family", sans).attr("font-weight", "bold").attr("font-size", 18).attr("fill", "#111");
});
[["Fresh Isolation", 123], ["Cryopreserved", 375], ["Fresh Isolation", 629], ["Cryopreserved", 882]].forEach(d => {
  root.append("text").text(d[0])
    .attr("transform", `translate(25,${d[1]}) rotate(-90)`)
    .attr("text-anchor", "middle").attr("font-family", sans).attr("font-size", 20.5).attr("fill", "#1a1a1a");
});

// bar helpers
function xScales(groups, left, right) {
  const outer = d3.scaleBand().domain(groups).range([left, right]).paddingInner(0.215).paddingOuter(0.1075);
  const inner = d3.scaleBand().domain(conditions).range([0, outer.bandwidth()]).paddingInner(0.085);
  return { outer, inner };
}

function errorBar(g, cx, from, to, half) {
  g.append("line").attr("x1", cx).attr("x2", cx).attr("y1", from).attr("y2", to)
    .attr("stroke", "#2b2b2b").attr("stroke-width", 1.3);
  g.append("line").attr("x1", cx - half).attr("x2", cx + half).attr("y1", to).attr("y2", to)
    .attr("stroke", "#2b2b2b").attr("stroke-width", 1.3);
}

function styleAxis(a) {
  a.selectAll(".domain, line").attr("stroke", "#222").attr("stroke-width", 1.5);
  a.selectAll("text").attr("font-family", sans).attr("font-weight", "bold")
    .attr("font-size", 15.5).attr("fill", "#1a1a1a");
}

function bracket(g, x1, x2, top, yLeft, yRight) {
  g.append("path").attr("d", d3.line()([[x1, yLeft], [x1, top], [x2, top], [x2, yRight]]))
    .attr("fill", "none").attr("stroke", "#444").attr("stroke-width", 1.1);
}

// panel D
(function () {
  const g = root.append("g");
  const { outer, inner } = xScales(groupsD, 339.25, 660.25);
  const y = d3.scaleLinear().domain([0, 50]).range([734.3, 528.3]);
  const rows = [{ c: "Fresh", v: freshD, top: freshDTop }, { c: "Cryopreserved", v: cryoD, top: cryoDTop }];
  rows.forEach(r => {
    groupsD.forEach((name, i) => {
      const x0 = outer(name) + inner(r.c);
      const cx = x0 + inner.bandwidth() / 2;
      errorBar(g, cx, y(r.v[i]), y(r.top[i]), 14.5);
      g.append("rect").attr("x", x0).attr("y", y(r.v[i]))
        .attr("width", inner.bandwidth()).attr("height", y(0) - y(r.v[i]))
        .attr("fill", barColor[r.c]).attr("stroke", "#1d0a1d").attr("stroke-width", 1);
    });
  });
  bracketsD.forEach((b, i) => {
    const name = groupsD[i];
    const xa = outer(name) + inner("Fresh") + inner.bandwidth() / 2 - 2;
    const xb = outer(name) + inner("Cryopreserved") + inner.bandwidth() / 2;
    bracket(g, xa, xb, y(b[0]), y(b[1]), y(b[2]));
    g.append("text").text(b[3]).attr("x", (xa + xb) / 2).attr("y", y(b[0]) - 3)
      .attr("text-anchor", "middle").attr("font-family", sans).attr("font-size", 13.5).attr("fill", "#444");
  });
  const ax = g.append("g").attr("transform", "translate(348.3,0)")
    .call(d3.axisLeft(y).tickValues(ticksD).tickSize(4).tickPadding(2));
  styleAxis(ax);
  const bx = g.append("g").attr("transform", "translate(0,734.3)");
  bx.call(d3.axisBottom(outer).tickSize(0).tickPadding(7));
  styleAxis(bx);
  bx.select(".domain").attr("d", "M348.3,0H645");
  bx.selectAll("text").attr("font-size", 14.5);
  g.append("text").text("Percent PBMCs")
    .attr("transform", "translate(317,628) rotate(-90)")
    .attr("text-anchor", "middle").attr("font-family", sans).attr("font-weight", "bold")
    .attr("font-size", 16).attr("fill", "#1a1a1a");
})();

// panel E, broken axis
(function () {
  const g = root.append("g");
  const { outer, inner } = xScales(groupsE, 343, 665);
  const yLow = d3.scaleLinear().domain([0, 10]).range([968.3, 842.7]);
  const yHigh = d3.scaleLinear().domain([60, 100]).range([824.3, 782.3]);
  const rows = [{ c: "Fresh", v: freshE, top: freshETop }, { c: "Cryopreserved", v: cryoE, top: cryoETop }];
  rows.forEach(r => {
    groupsE.forEach((name, i) => {
      const x0 = outer(name) + inner(r.c);
      const cx = x0 + inner.bandwidth() / 2;
      const rect = (y0, y1) => g.append("rect").attr("x", x0).attr("y", y1)
        .attr("width", inner.bandwidth()).attr("height", y0 - y1)
        .attr("fill", barColor[r.c]).attr("stroke", "#1d0a1d").attr("stroke-width", 0.8);
      if (r.v[i] > 10) {
        errorBar(g, cx, yHigh(r.v[i]), yHigh(r.top[i]), 14.5);
        rect(yLow(0), yLow(10));
        rect(yHigh(59), yHigh(r.v[i]));
      } else {
        errorBar(g, cx, yLow(r.v[i]), yLow(r.top[i]), 14.5);
        rect(yLow(0), yLow(r.v[i]));
      }
    });
  });
  const c1 = outer("CD14+") + inner.bandwidth() / 2;
  const c2 = outer("CD14+") + inner("Cryopreserved") + inner.bandwidth() / 2;
  bracket(g, c1, c2, yHigh(104.4), yHigh(100), yHigh(100));
  const c3 = outer("CD16+") + inner.bandwidth() / 2;
  const c4 = outer("CD16+") + inner("Cryopreserved") + inner.bandwidth() / 2;
  bracket(g, c3, c4, yLow(9.28), yLow(8.94), yLow(1.46));
  [["*", (c1 + c2) / 2, 778], ["***", (c3 + c4) / 2, 852]].forEach(s => {
    g.append("text").text(s[0]).attr("x", s[1]).attr("y", s[2])
      .attr("text-anchor", "middle").attr("font-family", sans).attr("font-weight", "bold")
      .attr("font-size", 15).attr("fill", "#333");
  });
  const high = g.append("g").attr("transform", "translate(351.7,0)")
    .call(d3.axisLeft(yHigh).tickValues(ticksEUpper).tickSize(4).tickPadding(2));
  styleAxis(high);
  const low = g.append("g").attr("transform", "translate(351.7,0)")
    .call(d3.axisLeft(yLow).tickValues(ticksELower).tickSize(4).tickPadding(2));
  styleAxis(low);
  // break marks on the axis
  [yHigh(60), yLow(10)].forEach(v => {
    g.append("line").attr("x1", 347.7).attr("x2", 351.7).attr("y1", v - 2.5).attr("y2", v + 2.5)
      .attr("stroke", "#222").attr("stroke-width", 1.3);
  });
  const bx = g.append("g").attr("transform", "translate(0,968.3)");
  bx.call(d3.axisBottom(outer).tickSize(0).tickPadding(7));
  styleAxis(bx);
  bx.select(".domain").attr("d", "M351.7,0H650");
  bx.selectAll("text").attr("font-size", 14.5);
  g.append("text").text("Percent PBMCs")
    .attr("transform", "translate(312,870) rotate(-90)")
    .attr("text-anchor", "middle").attr("font-family", sans).attr("font-weight", "bold")
    .attr("font-size", 16).attr("fill", "#1a1a1a");

  // legend
  conditions.forEach((c, i) => {
    g.append("rect").attr("x", 520.7).attr("y", 778 + i * 16.5).attr("width", 10).attr("height", 16.5)
      .attr("fill", barColor[c]);
    g.append("text").text(c).attr("x", 535).attr("y", 791.7 + i * 16)
      .attr("font-family", sans).attr("font-size", 16).attr("fill", "#222");
  });
})();
</script>
</body>
</html>
